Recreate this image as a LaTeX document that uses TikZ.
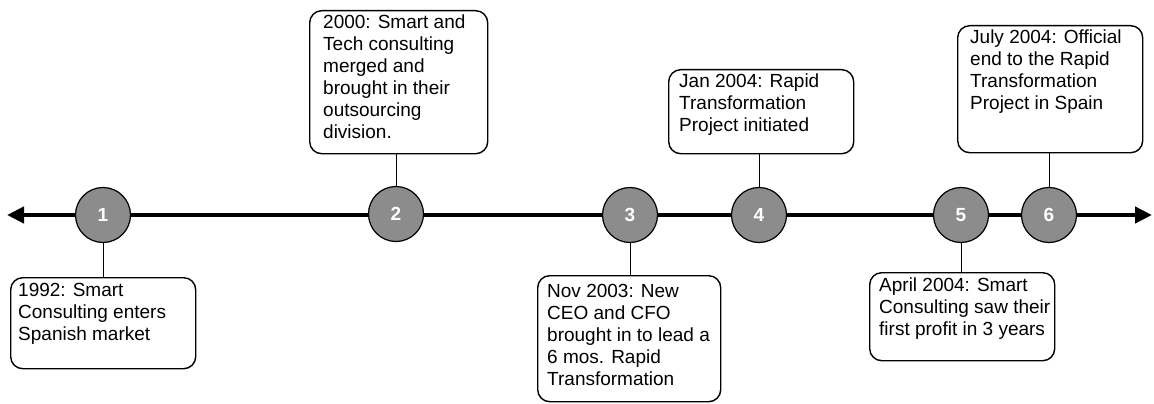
\documentclass[tikz,border=0pt]{standalone}
\usepackage{fontspec}
\setmainfont{Liberation Sans}
\usetikzlibrary{arrows.meta,calc}
\definecolor{circfill}{RGB}{140,140,140}
\tikzset{
  evbox/.style={draw=black, line width=1.4pt, rounded corners=12pt, minimum width=#1, inner sep=0pt, anchor=north west},
  evtext/.style={anchor=north west, align=left, inner sep=0pt, font=\fontsize{19}{22}\selectfont},
  marker/.style={circle, draw=black, line width=1.2pt, fill=circfill, minimum size=55pt, inner sep=0pt, text=white, font=\fontsize{19}{22}\selectfont\bfseries},
  link/.style={draw=black, line width=1pt},
  timeline/.style={line width=4.5pt, {Triangle[length=17pt,width=16pt]}-{Triangle[length=17pt,width=16pt]}}
}
\begin{document}
\begin{tikzpicture}[x=1pt,y=-1pt]
\useasboundingbox (0,0) rectangle (1154,404);
% timeline
\coordinate (L) at (7,215);
\coordinate (R) at (1152,215);
\draw[timeline] (L) -- (R);
% markers
\node[marker] (c1) at (103,215) {1};
\node[marker] (c2) at (396,214) {2};
\node[marker] (c3) at (630,215) {3};
\node[marker] (c4) at (759,215) {4};
\node[marker] (c5) at (961,215) {5};
\node[marker] (c6) at (1049,215) {6};
% boxes
\node[evbox=185pt, minimum height=91pt] (b1) at (10,277) {};
\node[evbox=178pt, minimum height=143pt] (b2) at (309,10) {};
\node[evbox=183pt, minimum height=126pt] (b3) at (537,275) {};
\node[evbox=185pt, minimum height=84pt] (b4) at (668,69) {};
\node[evbox=185pt, minimum height=88pt] (b5) at (869,272) {};
\node[evbox=185pt, minimum height=127pt] (b6) at (957,25) {};
% texts
\node[evtext] (t1) at ($(b1.north west)+(8,6)$) {1992: Smart\\Consulting enters\\Spanish market};
\node[evtext] (t2) at ($(b2.north west)+(14,5)$) {2000: Smart and\\Tech consulting\\merged and\\brought in their\\outsourcing\\division.};
\node[evtext] (t3) at ($(b3.north west)+(10,9)$) {Nov 2003: New\\CEO and CFO\\brought in to lead a\\6 mos. Rapid\\Transformation};
\node[evtext] (t4) at ($(b4.north west)+(11,5)$) {Jan 2004: Rapid\\Transformation\\Project initiated};
\node[evtext] (t5) at ($(b5.north west)+(10,6)$) {April 2004: Smart\\Consulting saw their\\first profit in 3 years};
\node[evtext] (t6) at ($(b6.north west)+(13,5)$) {July 2004: Official\\end to the Rapid\\Transformation\\Project in Spain};
% connectors
\draw[link] (c1.south) -- (c1.south |- b1.north);
\draw[link] (c2.north) -- (c2.north |- b2.south);
\draw[link] (c3.south) -- (c3.south |- b3.north);
\draw[link] (c4.north) -- (c4.north |- b4.south);
\draw[link] (c5.south) -- (c5.south |- b5.north);
\draw[link] (c6.north) -- (c6.north |- b6.south);
\end{tikzpicture}
\end{document}
